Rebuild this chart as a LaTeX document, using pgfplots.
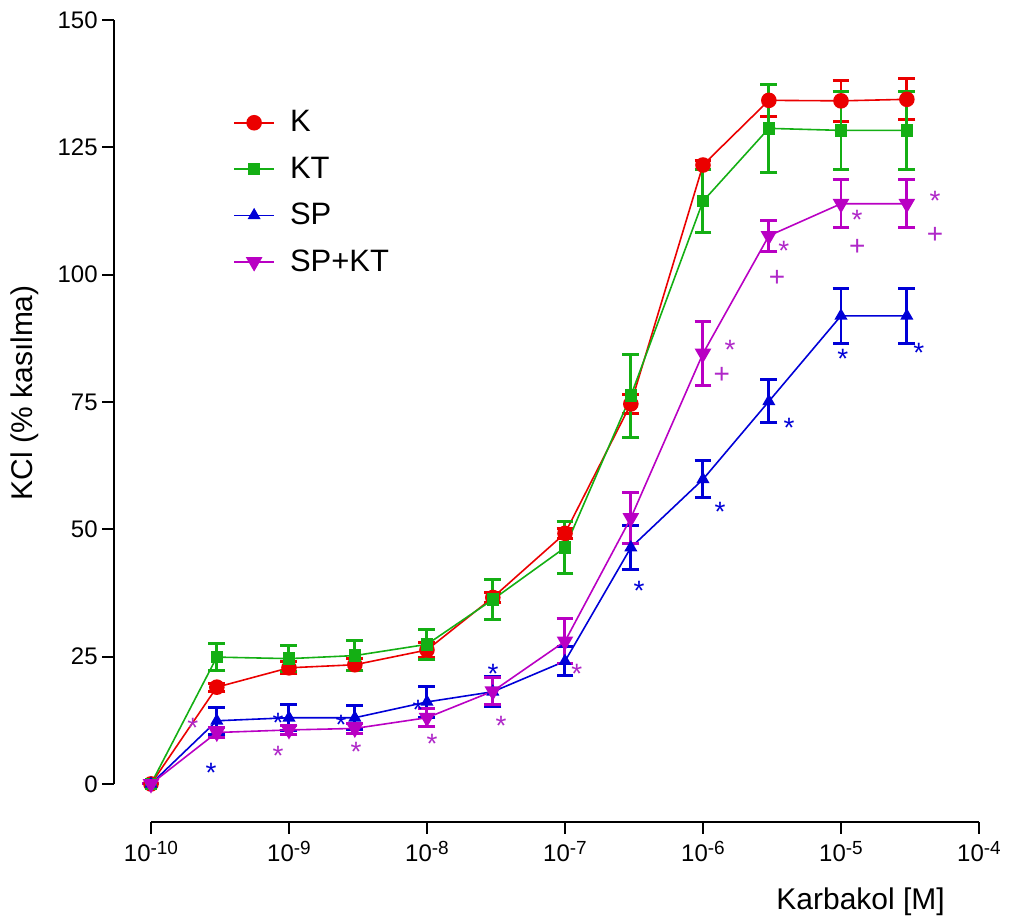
\documentclass[border=0pt]{standalone}
\usepackage{fontspec}
\setmainfont{Liberation Sans}
\usepackage{pgfplots}
\usepackage{pgfplotstable}
\pgfplotsset{compat=1.18}
\definecolor{cK}{RGB}{235,0,0}
\definecolor{cKT}{RGB}{20,175,20}
\definecolor{cSP}{RGB}{0,0,215}
\definecolor{cSPKT}{RGB}{185,0,195}
\definecolor{cStarM}{RGB}{175,40,200}

\pgfplotstableread{
x y e
1e-10 0 0
3e-10 19.0 0.8
1e-9 22.8 1.2
3e-9 23.4 1.2
1e-8 26.3 1.5
3e-8 36.6 1.0
1e-7 49.2 1.0
3e-7 74.6 1.8
1e-6 121.5 0.8
3e-6 134.2 3.2
1e-5 134.1 4.0
3e-5 134.4 4.0
}\tK
\pgfplotstableread{
x y e
1e-10 0 0
3e-10 24.9 2.7
1e-9 24.6 2.6
3e-9 25.2 2.9
1e-8 27.4 2.9
3e-8 36.2 3.9
1e-7 46.4 5.1
3e-7 76.2 8.2
1e-6 114.4 6.2
3e-6 128.7 8.6
1e-5 128.3 7.6
3e-5 128.3 7.6
}\tKT
\pgfplotstableread{
x y e
1e-10 0 0
3e-10 12.4 2.6
1e-9 13.0 2.6
3e-9 13.0 2.4
1e-8 16.1 3.1
3e-8 18.1 2.9
1e-7 24.1 2.8
3e-7 46.4 4.3
1e-6 59.8 3.6
3e-6 75.1 4.2
1e-5 91.9 5.4
3e-5 91.9 5.4
}\tSP
\pgfplotstableread{
x y e
1e-10 0 0
3e-10 10.1 1.0
1e-9 10.6 0.9
3e-9 10.9 0.9
1e-8 13.0 1.8
3e-8 18.2 2.7
1e-7 28.0 4.4
3e-7 52.2 5.0
1e-6 84.5 6.2
3e-6 107.6 3.0
1e-5 113.9 4.7
3e-5 113.9 4.7
}\tSPKT

\pgfplotsset{
  myerr/.style={error bars/.cd, y dir=both, y explicit,
    error bar style={line width=1.5pt},
    error mark options={rotate=90, mark size=4.25pt, line width=1.5pt}},
}
\tikzset{
  sigstar/.style={font=\fontsize{14}{16}\selectfont, inner sep=0pt, anchor=base, yshift=-8pt},
  sigplus/.style={font=\fontsize{14}{16}\selectfont, inner sep=0pt, anchor=base, yshift=-4.8pt},
}
\newcommand{\pw}[1]{10\raisebox{3.6pt}{\fontsize{9.5}{10}\selectfont -#1}}

\begin{document}
\begin{tikzpicture}
\begin{axis}[
  scale only axis, width=414.5pt, height=382.5pt,
  xmode=log, xmin=1e-10, xmax=1e-4, ymin=0, ymax=150,
  axis x line*=bottom, axis y line*=left,
  axis x line shift=19pt, axis y line shift=18.5pt,
  axis line style={line width=1pt, black},
  xtick={1e-10,1e-9,1e-8,1e-7,1e-6,1e-5,1e-4},
  xticklabels={\pw{10},\pw{9},\pw{8},\pw{7},\pw{6},\pw{5},\pw{4}},
  xminorticks=false,
  ytick={0,25,50,75,100,125,150},
  tick align=outside, major tick length=6pt,
  every tick/.style={black, line width=1pt},
  ticklabel style={font=\fontsize{12}{14}\selectfont},
  yticklabel style={inner sep=2pt},
  /pgf/number format/assume math mode=true,
  clip=false,
  legend style={at={(axis description cs:0.099,0.887)}, anchor=north west,
    draw=none, fill=none, inner sep=0pt, row sep=7pt,
    font=\fontsize{15.5}{17}\selectfont},
  legend cell align=left,
  legend image code/.code={\draw[mark repeat=2,mark phase=2] plot coordinates {(0pt,0pt) (10pt,0pt) (20pt,0pt)}; \path[draw=none] (0pt,0pt) -- (26pt,0pt);},
]
\path (axis cs:8.05e-12,-27.45) rectangle (axis cs:1.734e-4,153.9);

\addplot[cK, line width=0.8pt, mark=*, mark size=3.5pt, mark options={solid}, myerr]
  table[x=x, y=y, y error=e] {\tK};
\addlegendentry{K}
\addplot[cKT, line width=0.8pt, mark=square*, mark size=2.75pt, mark options={solid}, myerr]
  table[x=x, y=y, y error=e] {\tKT};
\addlegendentry{KT}
\addplot[cSP, line width=0.8pt, mark=triangle*, mark size=3pt, mark options={solid}, myerr]
  table[x=x, y=y, y error=e] {\tSP};
\addlegendentry{SP}
\addplot[cSPKT, line width=0.8pt, mark=triangle*, mark size=4pt, mark options={solid, rotate=180}, myerr]
  table[x=x, y=y, y error=e] {\tSPKT};
\addlegendentry{SP+KT}

% significance markers
\node[sigstar, text=cSP] at (axis cs:2.72e-10,3.5) {*};
\node[sigstar, text=cSP] at (axis cs:8.32e-10,13.3) {*};
\node[sigstar, text=cSP] at (axis cs:2.38e-9,12.9) {*};
\node[sigstar, text=cSP] at (axis cs:8.61e-9,15.7) {*};
\node[sigstar, text=cSP] at (axis cs:3.01e-8,22.9) {*};
\node[sigstar, text=cSP] at (axis cs:3.44e-7,39.2) {*};
\node[sigstar, text=cSP] at (axis cs:1.33e-6,54.7) {*};
\node[sigstar, text=cSP] at (axis cs:4.20e-6,71.2) {*};
\node[sigstar, text=cSP] at (axis cs:1.03e-5,84.7) {*};
\node[sigstar, text=cSP] at (axis cs:3.67e-5,85.9) {*};

\node[sigstar, text=cStarM] at (axis cs:2.01e-10,12.2) {*};
\node[sigstar, text=cStarM] at (axis cs:8.32e-10,6.7) {*};
\node[sigstar, text=cStarM] at (axis cs:3.06e-9,7.5) {*};
\node[sigstar, text=cStarM] at (axis cs:1.09e-8,9.2) {*};
\node[sigstar, text=cStarM] at (axis cs:3.44e-8,12.6) {*};
\node[sigstar, text=cStarM] at (axis cs:1.22e-7,22.9) {*};
\node[sigstar, text=cStarM] at (axis cs:1.57e-6,86.4) {*};
\node[sigplus, text=cStarM] at (axis cs:1.37e-6,80.4) {+};
\node[sigstar, text=cStarM] at (axis cs:3.86e-6,105.8) {*};
\node[sigplus, text=cStarM] at (axis cs:3.44e-6,99.6) {+};
\node[sigstar, text=cStarM] at (axis cs:1.31e-5,112.0) {*};
\node[sigplus, text=cStarM] at (axis cs:1.31e-5,105.6) {+};
\node[sigstar, text=cStarM] at (axis cs:4.80e-5,115.8) {*};
\node[sigplus, text=cStarM] at (axis cs:4.80e-5,108.0) {+};

\node[font=\fontsize{15}{17}\selectfont, rotate=90] at (axis description cs:-0.152,0.512) {KCl (\% kasılma)};
\node[font=\fontsize{15}{17}\selectfont] at (axis description cs:0.857,-0.154) {Karbakol [M]};
\end{axis}
\end{tikzpicture}
\end{document}
